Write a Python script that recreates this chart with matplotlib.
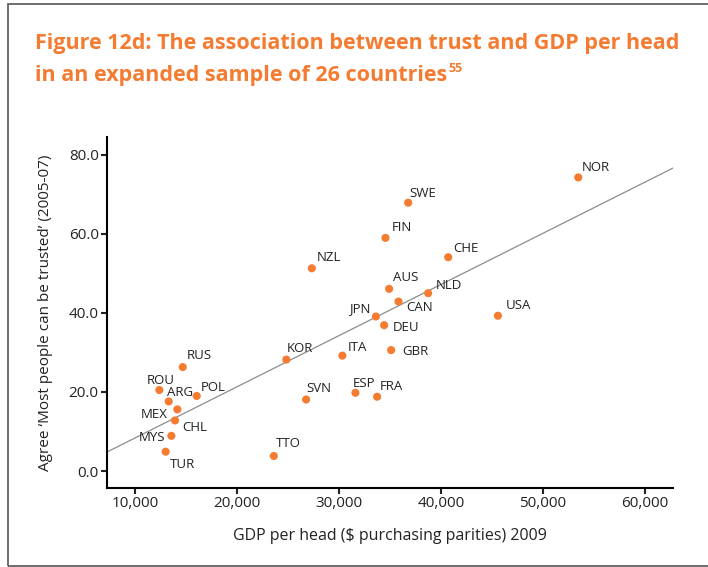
import numpy as np
import matplotlib
matplotlib.use("Agg")
import matplotlib.pyplot as plt
from matplotlib.patches import Rectangle

# ── data ─────────────────────────────────────────────────────────────────────
COUNTRIES = [
    "NOR", "SWE", "FIN", "CHE", "NZL", "AUS", "NLD", "CAN", "USA",
    "JPN", "DEU", "GBR", "KOR", "ITA", "SVN", "ESP", "FRA", "TTO",
    "RUS", "ROU", "ARG", "POL", "MEX", "CHL", "MYS", "TUR",
]
GDP_PER_HEAD = [
    53470, 36770, 34540, 40700, 27310, 34900, 38730, 35820, 45580,
    33600, 34410, 35100, 24810, 30310, 26750, 31590, 33720, 23580,
    14640, 12340, 13260, 16010, 14110, 13880, 13520, 12960,
]
TRUST = [
    74.3, 67.9, 59.0, 54.1, 51.3, 46.1, 45.0, 42.9, 39.3,
    39.1, 36.9, 30.6, 28.2, 29.2, 18.1, 19.8, 18.8, 3.8,
    26.3, 20.5, 17.6, 19.0, 15.6, 12.8, 8.9, 4.9,
]
X_TICKS = [10000, 20000, 30000, 40000, 50000, 60000]
Y_TICKS = [0, 20, 40, 60, 80]

# label placement: (dx, dy) in points, horizontal alignment
LABEL_POS = {
    "NOR": (2.7, 4.3, "left"),  "SWE": (0.7, 4.3, "left"),
    "FIN": (4.3, 5.3, "left"),  "CHE": (3.4, 4.0, "left"),
    "NZL": (3.6, 5.3, "left"),  "AUS": (3.1, 5.8, "left"),
    "NLD": (5.5, 3.3, "left"),  "CAN": (5.5, -7.2, "left"),
    "USA": (5.5, 4.8, "left"),  "JPN": (-3.6, 2.9, "right"),
    "DEU": (6.0, -4.1, "left"), "GBR": (7.7, -3.4, "left"),
    "KOR": (0.2, 5.8, "left"),  "ITA": (4.1, 3.6, "left"),
    "SVN": (0.5, 5.3, "left"),  "ESP": (-1.7, 4.3, "left"),
    "FRA": (2.2, 4.8, "left"),  "TTO": (1.7, 6.3, "left"),
    "RUS": (2.9, 5.8, "left"),  "ROU": (0.9, 4.1, "center"),
    "ARG": (-1.0, 4.0, "left"), "POL": (3.1, 3.8, "left"),
    "MEX": (-6.9, -6.5, "right"), "CHL": (5.0, -7.7, "left"),
    "MYS": (-4.5, -3.6, "right"), "TUR": (3.1, -12.0, "left"),
}

# ── style ────────────────────────────────────────────────────────────────────
ORANGE = "#F47B30"
TEXT_C = "#222222"
FONT = "Open Sans"
TITLE_FS = 15.5
plt.rcParams.update({
    "font.family": FONT,
    "axes.linewidth": 1.5,
    "xtick.major.width": 1.5,
    "ytick.major.width": 1.5,
    "xtick.major.size": 4,
    "ytick.major.size": 4,
    "xtick.major.pad": 2,
    "ytick.major.pad": 2,
})

fig = plt.figure(figsize=(7.08, 5.67), dpi=100)
ax = fig.add_axes([0.1511, 0.1393, 0.7999, 0.6196])

x = np.array(GDP_PER_HEAD, dtype=float)
y = np.array(TRUST, dtype=float)

XLIM = (7200, 62800)
YLIM = (-4.3, 84.6)
ax.set_xlim(XLIM)
ax.set_ylim(YLIM)

# ── linear fit ───────────────────────────────────────────────────────────────
slope, intercept = np.polyfit(x, y, 1)
xl = np.array(XLIM)
ax.plot(xl, slope * xl + intercept, color="#8c8c8c", lw=0.9, zorder=1,
        solid_capstyle="butt")

ax.scatter(x, y, s=34, color=ORANGE, edgecolors="none", zorder=3)

for name, xv, yv in zip(COUNTRIES, x, y):
    dx, dy, ha = LABEL_POS[name]
    ax.annotate(name, (xv, yv), xytext=(dx, dy), textcoords="offset points",
                ha=ha, va="baseline", fontsize=9.5, color=TEXT_C)

ax.spines["top"].set_visible(False)
ax.spines["right"].set_visible(False)
ax.set_xticks(X_TICKS)
ax.set_xticklabels([f"{v:,}" for v in X_TICKS])
ax.set_yticks(Y_TICKS)
ax.set_yticklabels([f"{v:.1f}" for v in Y_TICKS])
ax.tick_params(labelsize=11, colors=TEXT_C)

ax.set_xlabel("GDP per head ($ purchasing parities) 2009", fontsize=11.5,
              color=TEXT_C, labelpad=12)
ax.set_ylabel("Agree \u2018Most people can be trusted\u2019 (2005-07)",
              fontsize=11, color=TEXT_C, labelpad=11)

# ── title ────────────────────────────────────────────────────────────────────
fig.text(35 / 708, 1 - 44 / 567,
         "Figure 12d: The association between trust and GDP per head",
         fontsize=TITLE_FS, fontweight="bold", color=ORANGE,
         va="center", ha="left")
line2 = fig.text(35 / 708, 1 - 76 / 567,
                 "in an expanded sample of 26 countries",
                 fontsize=TITLE_FS, fontweight="bold", color=ORANGE,
                 va="center", ha="left")
# superscript footnote mark placed right after the second line
fig.canvas.draw()
bb = line2.get_window_extent(fig.canvas.get_renderer())
fig.text(bb.x1 / fig.bbox.width + 0.002, 1 - 68 / 567, "55",
         fontsize=9, fontweight="bold", color=ORANGE, va="center", ha="left")

# ── outer frame (right side runs off the image) ──────────────────────────────
fig.add_artist(Rectangle((8 / 708, 1 / 567), 1.0, 562 / 567,
                         transform=fig.transFigure, fill=False,
                         edgecolor="#555555", lw=1.2, clip_on=False))

fig.savefig("out.png", dpi=100)
